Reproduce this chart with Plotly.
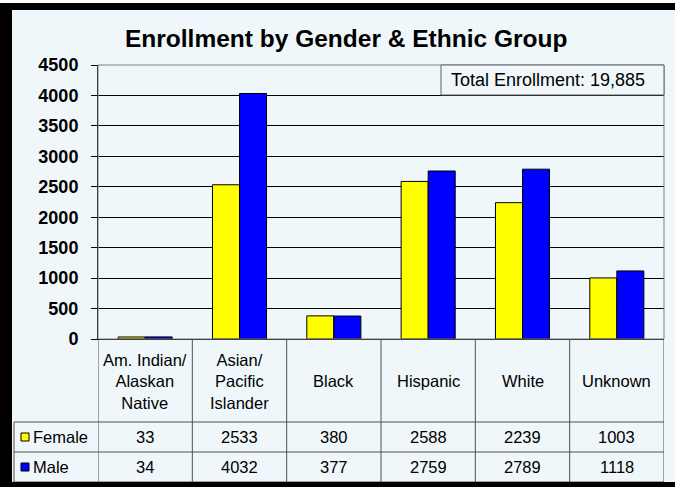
import plotly.graph_objects as go

categories = ["Am. Indian/<br>Alaskan<br>Native", "Asian/<br>Pacific<br>Islander", "Black", "Hispanic", "White", "Unknown"]
female = [33, 2533, 380, 2588, 2239, 1003]
male = [34, 4032, 377, 2759, 2789, 1118]
series_names = ["Female", "Male"]
series_colors = ["#FFFF00", "#0000FF"]
y_ticks = [0, 500, 1000, 1500, 2000, 2500, 3000, 3500, 4000, 4500]
title_text = "Enrollment by Gender & Ethnic Group"
total_text = "Total Enrollment: 19,885"

W, H = 675, 487
L, R, T, B = 98, 11, 65, 148
PW, PH = W - L - R, H - T - B


def px(p):
    return (p - L) / PW


def py(p):
    return (H - B - p) / PH


FONT = "Liberation Sans, Arial, sans-serif"
BG = "#F0F7FA"
LINE = "#505050"

xs = list(range(len(categories)))
fig = go.Figure()
for name, vals, col in zip(series_names, [female, male], series_colors):
    fig.add_trace(go.Bar(x=xs, y=vals, name=name, marker=dict(color=col, line=dict(color="black", width=1))))

shapes = []
annotations = []

# plot border (top/right)
shapes.append(dict(type="rect", xref="paper", yref="paper", x0=0, x1=1, y0=0, y1=1,
                   line=dict(color="#808080", width=1), layer="above"))
# table lines
for i in range(len(categories) + 1):
    shapes.append(dict(type="line", xref="x", yref="paper", x0=i - 0.5, x1=i - 0.5,
                       y0=py(339), y1=py(482), line=dict(color=LINE, width=1)))
shapes.append(dict(type="line", xref="paper", yref="paper", x0=px(14), x1=px(14),
                   y0=py(422), y1=py(482), line=dict(color=LINE, width=1)))
for yy in [422, 452, 482]:
    shapes.append(dict(type="line", xref="paper", yref="paper", x0=px(14), x1=1,
                       y0=py(yy), y1=py(yy), line=dict(color=LINE, width=1)))

# category labels
for i, c in enumerate(categories):
    annotations.append(dict(x=i, y=py(381), xref="x", yref="paper", text=c, showarrow=False,
                            xanchor="center", yanchor="middle",
                            font=dict(family=FONT, size=16.5, color="black"), align="center"))
# values rows
row_y = [437, 467]
for r, (name, vals, col) in enumerate(zip(series_names, [female, male], series_colors)):
    for i, v in enumerate(vals):
        annotations.append(dict(x=i, y=py(row_y[r]), xref="x", yref="paper", text=str(v), showarrow=False,
                                xanchor="center", yanchor="middle",
                                font=dict(family=FONT, size=16.5, color="black")))
    shapes.append(dict(type="rect", xref="paper", yref="paper", x0=px(21), x1=px(29),
                       y0=py(row_y[r] + 4), y1=py(row_y[r] - 4), fillcolor=col,
                       line=dict(color="black", width=1)))
    annotations.append(dict(x=px(31), y=py(row_y[r]), xref="paper", yref="paper", text=name,
                            showarrow=False, xanchor="left", yanchor="middle",
                            font=dict(family=FONT, size=16.5, color="black")))

# title
annotations.append(dict(x=px(346), y=py(38), xref="paper", yref="paper", text="<b>" + title_text + "</b>",
                        showarrow=False, xanchor="center", yanchor="middle",
                        font=dict(family=FONT, size=24.5, color="black")))
# total box
shapes.append(dict(type="rect", xref="paper", yref="paper", x0=px(441), x1=1, y0=py(95), y1=1,
                   line=dict(color="#606060", width=1), fillcolor=BG, layer="above"))
annotations.append(dict(x=px(548), y=py(80), xref="paper", yref="paper", text=total_text,
                        showarrow=False, xanchor="center", yanchor="middle",
                        font=dict(family=FONT, size=18, color="black")))

# black frame
shapes.append(dict(type="rect", xref="paper", yref="paper", x0=px(0), x1=px(W), y0=py(0), y1=py(3),
                   fillcolor="white", line=dict(width=0), layer="above"))
shapes.append(dict(type="rect", xref="paper", yref="paper", x0=px(0), x1=px(W), y0=py(3), y1=py(10),
                   fillcolor="black", line=dict(width=0), layer="above"))
shapes.append(dict(type="rect", xref="paper", yref="paper", x0=px(0), x1=px(12), y0=py(3), y1=py(H),
                   fillcolor="black", line=dict(width=0), layer="above"))
shapes.append(dict(type="rect", xref="paper", yref="paper", x0=px(0), x1=px(W), y0=py(482), y1=py(H),
                   fillcolor="black", line=dict(width=0), layer="above"))

fig.update_layout(
    width=W, height=H,
    margin=dict(l=L, r=R, t=T, b=B, pad=0),
    paper_bgcolor=BG, plot_bgcolor=BG,
    barmode="group", bargap=0.427, bargroupgap=0,
    showlegend=False,
    shapes=shapes, annotations=annotations,
    xaxis=dict(range=[-0.5, len(categories) - 0.5], showticklabels=False, showgrid=False,
               zeroline=False, showline=True, linecolor="black", linewidth=1, ticks=""),
    yaxis=dict(range=[0, 4500], tickvals=y_ticks, showgrid=True, gridcolor="black", gridwidth=1,
               zeroline=False, showline=True, linecolor="black", linewidth=1,
               ticks="outside", ticklen=6, tickcolor="black", ticklabelstandoff=9,
               tickfont=dict(family=FONT, size=18, color="black", weight="bold")),
    font=dict(family=FONT),
)

fig.write_html("out.html", config={"displayModeBar": False},
               post_script="document.body.style.margin='0';document.body.style.padding='0';")
